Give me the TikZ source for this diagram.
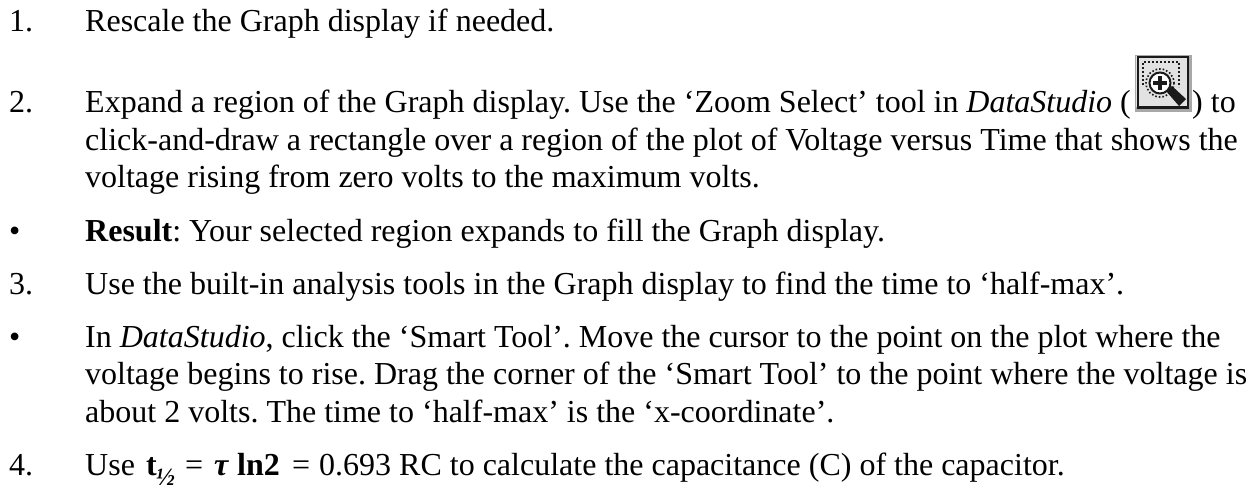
\documentclass[tikz,border=0pt]{standalone}
\usepackage{fontspec}
\setmainfont{Liberation Serif}
\definecolor{iconface}{HTML}{E2E2E2}
\definecolor{iconshadow}{HTML}{A8A8A8}
\definecolor{iconink}{HTML}{1A1A1A}
\tikzset{
  lbl/.style={anchor=base west,inner sep=0pt,font=\fontsize{32}{32}\selectfont\frenchspacing},
  subscr/.style={anchor=base west,inner sep=0pt,font=\fontsize{25}{25}\selectfont\bfseries\itshape},
}
\begin{document}
\begin{tikzpicture}[x=1pt,y=-1pt]
\useasboundingbox (0,0) rectangle (1257,487);
\fill[white] (0,0) rectangle (1257,487);
\node[lbl] (n1) at (9,32) {1.};
\node[lbl] (t1) at (85,32) {Rescale the Graph display if needed.};
\node[lbl] (n2) at (9,112.5) {2.};
\node[lbl] (t2a) at (85,112.5) {Expand a region of the Graph display. Use the ‘Zoom Select’ tool in \textit{DataStudio} (};
\node[lbl] (t2c) at (1192,112.5) {) to};
\node[lbl] (t2b) at (85,150) {click-and-draw a rectangle over a region of the plot of Voltage versus Time that shows the};
\node[lbl] (t2d) at (85,187) {voltage rising from zero volts to the maximum volts.};
\node[lbl] (b1) at (9,241) {•};
\node[lbl] (r1) at (85,241) {\textbf{Result}: Your selected region expands to fill the Graph display.};
\node[lbl] (n3) at (9,294) {3.};
\node[lbl] (t3) at (85,294) {Use the built-in analysis tools in the Graph display to find the time to ‘half-max’.};
\node[lbl] (b2) at (9,347) {•};
\node[lbl] (s1) at (85,347) {In \textit{DataStudio}, click the ‘Smart Tool’. Move the cursor to the point on the plot where the};
\node[lbl] (s2) at (85,384.5) {voltage begins to rise. Drag the corner of the ‘Smart Tool’ to the point where the voltage is};
\node[lbl] (s3) at (85,422) {about 2 volts. The time to ‘half-max’ is the ‘x-coordinate’.};
\node[lbl] (n4) at (9,475) {4.};
\node[lbl] (t4) at (85,475) {Use};
\node[lbl] (t4t) at (146,475) {\textbf{t}};
\node[subscr] (t4s) at (156,485) {½};
\node[lbl] (t4e) at (185,475) {=};
\node[lbl] (t4tau) at (214,475) {\textbf{\textit{τ}}};
\node[lbl] (t4ln) at (237,475) {\textbf{ln2}};
\node[lbl] (t4e2) at (292,475) {=};
\node[lbl] (t4r) at (319,475) {0.693 RC to calculate the capacitance (C) of the capacitor.};
% toolbar icon
\fill[iconshadow] (1135,55) rectangle (1192,112);
\fill[iconface] (1136,56) rectangle (1189,107);
\draw[iconink,line width=2.2pt] (1138,108) -- (1138,57) -- (1188,57) -- (1188,108);
\draw[iconink,line width=3pt] (1137,107.5) -- (1189,107.5);
\draw[iconink,line width=2pt,dotted] (1143,85) -- (1143,62) -- (1179,62) -- (1179,87);
\draw[iconink,line width=1.6pt,dotted] (1160,83) circle (14);
\fill[white] (1160,83) circle (10.5);
\draw[iconink,line width=2pt] (1160,83) circle (10.5);
\fill[iconink] (1158,76) rectangle (1162,90);
\fill[iconink] (1153,81) rectangle (1167,85);
\fill[iconink] (1166,91) -- (1172,86) -- (1186,99) -- (1179,106) -- cycle;
\end{tikzpicture}
\end{document}
